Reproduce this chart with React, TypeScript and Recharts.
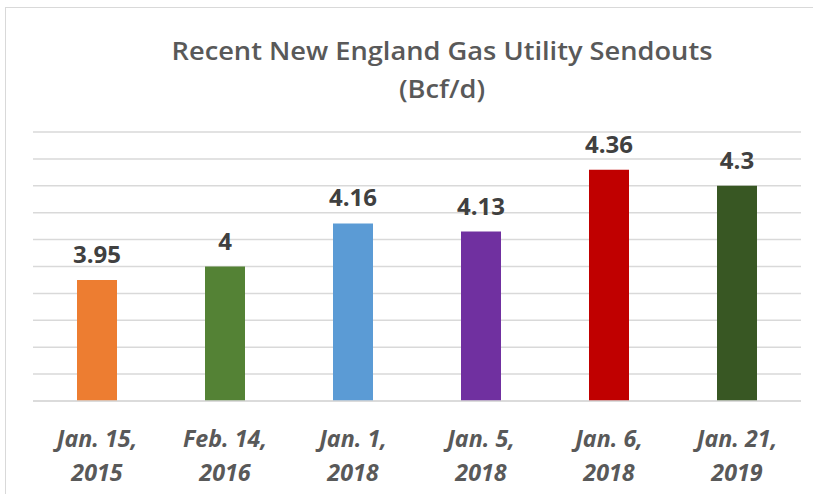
import React from "react";
import { BarChart, Bar, XAxis, YAxis, CartesianGrid, Cell, LabelList } from "recharts";

const categories = ["Jan. 15, 2015", "Feb. 14, 2016", "Jan. 1, 2018", "Jan. 5, 2018", "Jan. 6, 2018", "Jan. 21, 2019"];
const sendouts = [3.95, 4, 4.16, 4.13, 4.36, 4.3];
const barColors = ["#ED7D31", "#548235", "#5B9BD5", "#7030A0", "#C00000", "#385723"];
const yTicks = [3.5, 3.6, 3.7, 3.8, 3.9, 4.0, 4.1, 4.2, 4.3, 4.4, 4.5];
const titleLine1 = "Recent New England  Gas Utility Sendouts";
const titleLine2 = "(Bcf/d)";

const data = categories.map((c, i) => ({ name: c, value: sendouts[i] }));

const Tick = (props: any) => {
  const { x, y, payload } = props;
  const s: string = payload.value;
  const idx = s.lastIndexOf(" ");
  const l1 = s.slice(0, idx);
  const l2 = s.slice(idx + 1);
  return (
    <g transform={`translate(${x},${y}) scale(0.97,1)`}>
      <text
        x={0}
        y={0}
        textAnchor="middle"
        fill="#595959"
        fontFamily="'Open Sans', sans-serif"
        fontStyle="italic"
        fontWeight="bold"
        fontSize={24}
      >
        <tspan x={0} dy={46}>{l1}</tspan>
        <tspan x={0} dy={34}>{l2}</tspan>
      </text>
    </g>
  );
};

export default function App() {
  return (
    <div style={{ position: "absolute", left: 0, top: 0, width: 813, height: 494, background: "#fff", overflow: "hidden" }}>
      <div style={{ position: "absolute", left: 5, top: 7, width: 900, height: 600, borderLeft: "1px solid #d9d9d9", borderTop: "1px solid #d9d9d9" }} />
      <svg style={{ position: "absolute", left: 0, top: 0 }} width={813} height={120}>
        <g transform="translate(442,0) scale(1.09,1)">
          <text x={0} y={60} textAnchor="middle" fill="#595959" fontFamily="'Open Sans', sans-serif" fontWeight={600} fontSize={25}>
            {titleLine1}
          </text>
          <text x={0} y={98} textAnchor="middle" fill="#595959" fontFamily="'Open Sans', sans-serif" fontWeight={600} fontSize={25}>
            {titleLine2}
          </text>
        </g>
      </svg>
      <div style={{ position: "absolute", left: 0, top: 0 }}>
        <BarChart width={813} height={494} data={data} margin={{ top: 132, right: 12, left: 33, bottom: 0 }}>
          <CartesianGrid vertical={false} stroke="#d9d9d9" strokeWidth={1.5} />
          <YAxis hide domain={[3.5, 4.5]} ticks={yTicks} type="number" />
          <XAxis
            dataKey="name"
            height={93}
            tickLine={false}
            tickSize={0}
            tickMargin={0}
            axisLine={{ stroke: "#d9d9d9", strokeWidth: 1.5 }}
            tick={<Tick />}
            interval={0}
          />
          <Bar dataKey="value" barSize={40} isAnimationActive={false}>
            {data.map((d, i) => (
              <Cell key={d.name} fill={barColors[i]} />
            ))}
            <LabelList
              dataKey="value"
              position="top"
              offset={17}
              fill="#404040"
              style={{ fontFamily: "'Open Sans', sans-serif", fontWeight: "bold", fontSize: 24, fill: "#404040" }}
            />
          </Bar>
        </BarChart>
      </div>
    </div>
  );
}
